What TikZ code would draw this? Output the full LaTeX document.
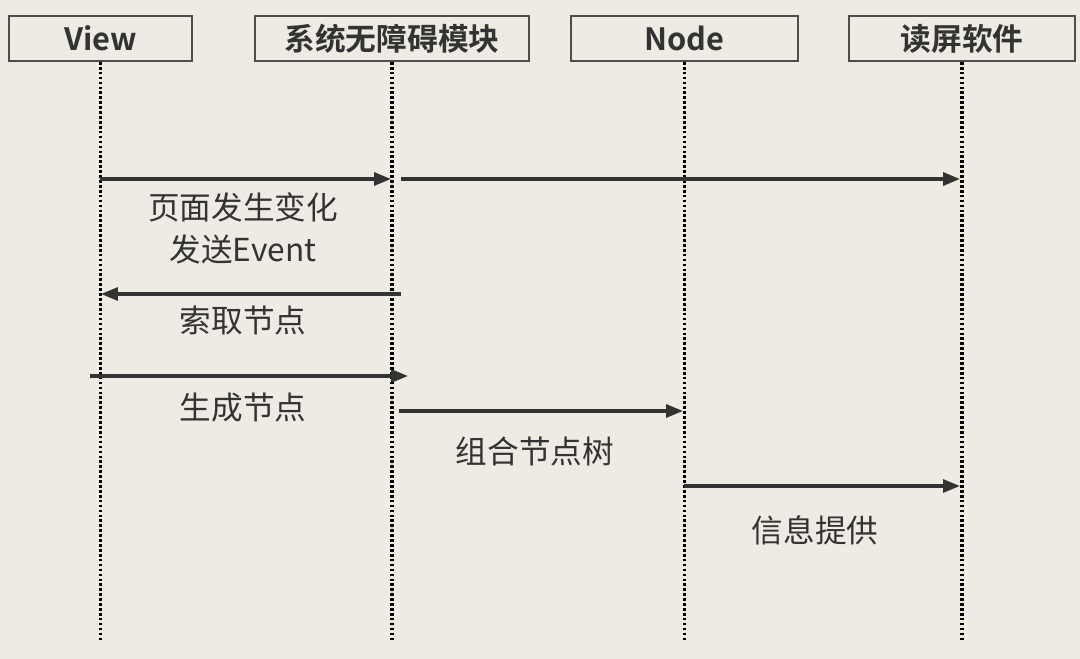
\documentclass[tikz,border=0pt]{standalone}
\usepackage{fontspec}
\setmainfont{Noto Sans CJK SC}[BoldFont={Noto Sans CJK SC Bold}]
\usetikzlibrary{arrows.meta,positioning}
\definecolor{paper}{HTML}{EEEBE4}
\definecolor{ink}{HTML}{333333}
\definecolor{frame}{HTML}{4D4D4D}

\begin{document}
\begin{tikzpicture}[x=0.02cm,y=-0.02cm,
    actor/.style={draw=frame,line width=1.1pt,fill=paper,minimum height=0.9cm,
                  text=ink,font=\fontsize{17.5}{20}\selectfont\bfseries},
    lifeline/.style={black,line width=2.1pt,dash pattern=on 1.5pt off 1.3pt},
    msg/.style={ink,line width=1.8pt,-{Triangle[length=0.34cm,width=0.26cm]}},
    lbl/.style={text=ink,align=center,font=\fontsize{18}{24}\selectfont}]
  \fill[paper] (0,0) rectangle (1080,659);
  \useasboundingbox (0,0) rectangle (1080,659);

  % participants
  \node[actor,minimum width=3.66cm] (view)   at (100.5,38.5) {View};
  \node[actor,minimum width=5.48cm] (sys)    at (392,38.5)   {系统无障碍模块};
  \node[actor,minimum width=4.54cm] (tree)   at (684.5,38.5) {Node};
  \node[actor,minimum width=4.52cm] (reader) at (962,38.5)   {读屏软件};

  % lifelines
  \foreach \who in {view,sys,tree,reader}
    \draw[lifeline] (\who.south) -- (\who.south |- 0,640);

  % message ends
  \coordinate (v1) at (100,179);  \coordinate (s1) at (391,179);
  \coordinate (s1b) at (401,179); \coordinate (r1) at (960,179);
  \coordinate (s2) at (401,294);  \coordinate (v2) at (101,294);
  \coordinate (v3) at (90,376);   \coordinate (s3) at (408,376);
  \coordinate (s4) at (399,411);  \coordinate (n4) at (683,411);
  \coordinate (n5) at (684,486);  \coordinate (r5) at (960,486);

  \draw[msg] (v1) -- (s1);
  \draw[msg] (s1b) -- (r1);
  \draw[msg] (s2) -- (v2);
  \draw[msg] (v3) -- (s3);
  \draw[msg] (s4) -- (n4);
  \draw[msg] (n5) -- (r5);

  % labels
  \node[lbl] (change) at (243,228) {页面发生变化\\发送Event};
  \node[lbl] (fetch)  at (243,320) {索取节点};
  \node[lbl] (make)   at (243,408) {生成节点};
  \node[lbl] (build)  at (535,451) {组合节点树};
  \node[lbl] (info)   at (815,530) {信息提供};
\end{tikzpicture}
\end{document}
